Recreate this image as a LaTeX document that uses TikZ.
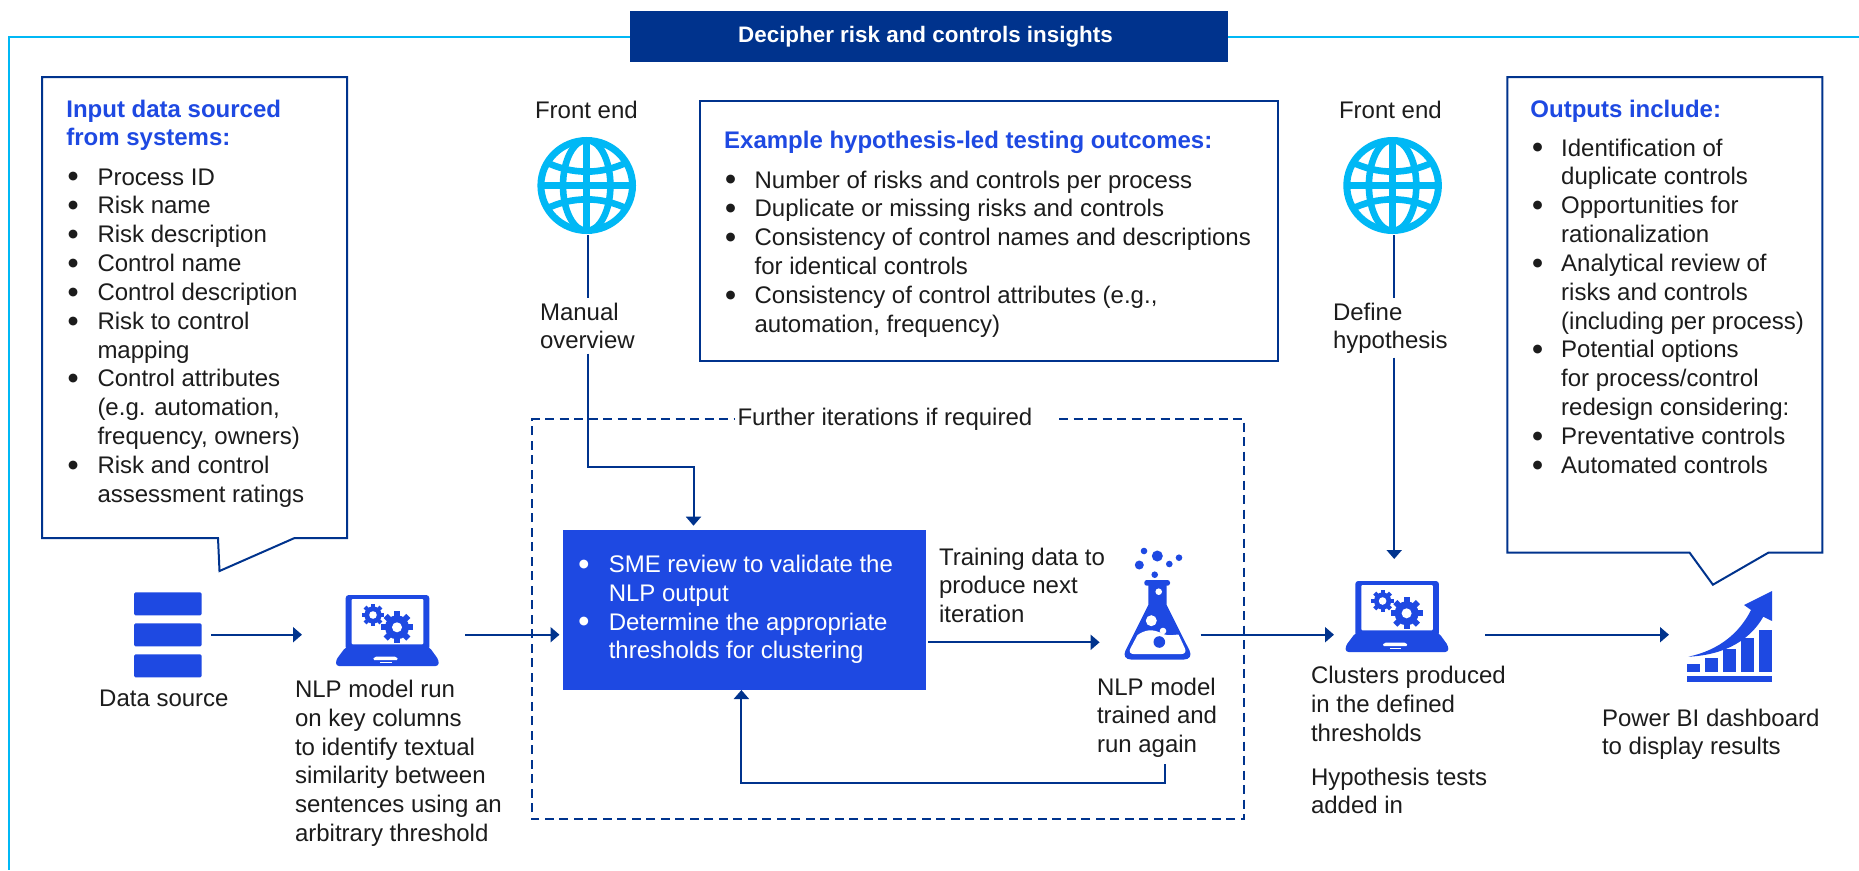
\documentclass[tikz,border=0pt]{standalone}
\usepackage{fontspec}
\setmainfont{Liberation Sans}
\newfontfamily\bulletfont{DejaVu Sans}
\usetikzlibrary{arrows.meta,calc}
\definecolor{navy}{HTML}{00338D}
\definecolor{brand}{HTML}{1E49E2}
\definecolor{sky}{HTML}{00B8F5}
\definecolor{ink}{HTML}{1C1C1C}
\newcommand{\rowsof}[1]{\begin{tabular}[t]{@{}l@{}}#1\end{tabular}}
\newcommand{\bulletsof}[2]{\begin{tabular}[t]{@{}p{#1pt}@{}l@{}}#2\end{tabular}}
\newcommand{\bl}{\makebox[0pt][l]{\raisebox{5.2pt}{\bulletfont\fontsize{11.5}{12}\selectfont ●}} &}
\newcommand{\gearicon}[6]{%
  \foreach \a in {0,45,...,315} {\draw[line width=#6pt,brand] (#1,#2) -- ++(\a:#4);}
  \fill[brand] (#1,#2) circle[radius=#3];
  \fill[white] (#1,#2) circle[radius=#5];}
\newcommand{\laptopicon}[2]{%
  \begin{scope}[shift={(#1,#2)}]
    \fill[brand,rounded corners=3pt] (345.7,595) rectangle (429.3,650);
    \fill[brand,rounded corners=3pt] (345.7,647) -- (429.3,647) -- (438.7,660) -- (438.7,666) -- (336,666) -- (336,660) -- cycle;
    \fill[white,rounded corners=1pt] (351.7,599) rectangle (423.3,644.3);
    \fill[white,rounded corners=1.5pt] (372.7,660) -- (374.5,656.7) -- (396.5,656.7) -- (398.3,660) -- cycle;
    \fill[white] (380,662.2) rectangle (391.7,663.2);
    \gearicon{397}{627.3}{12}{16}{5}{5.8}
    \gearicon{373}{615}{8.6}{11.2}{3.8}{4.2}
  \end{scope}}
\newcommand{\globeicon}[2]{%
  \begin{scope}[shift={(#1,#2)}]
    \draw[sky,line width=7pt] (0,0) ellipse[x radius=45.8,y radius=45];
    \begin{scope}
      \clip (0,0) ellipse[x radius=47,y radius=46.5];
      \draw[sky,line width=6.6pt] (0,0) ellipse[x radius=23.7,y radius=45.5];
      \draw[sky,line width=6.6pt] (0,-46) -- (0,46);
      \draw[sky,line width=6.6pt] (-46,0) -- (46,0);
      \draw[sky,line width=6.6pt] (-42,-24) .. controls (-15,-10.5) and (15,-10.5) .. (42,-24);
      \draw[sky,line width=6.6pt] (-42,24) .. controls (-15,10.5) and (15,10.5) .. (42,24);
    \end{scope}
  \end{scope}}
\tikzset{
  x=1pt,y=-1pt,
  txt/.style={inner sep=0pt,outer sep=0pt,anchor=base west,font=\fontsize{24}{28.85}\selectfont,text=ink},
  head/.style={inner sep=0pt,outer sep=0pt,anchor=base west,font=\fontsize{24}{28}\selectfont\bfseries,text=brand},
  port/.style={inner sep=0pt,outer sep=0pt,draw=none,fill=none},
  panel/.style={draw=navy,line width=2pt,line join=miter},
  conn/.style={draw=navy,line width=2pt},
  arr/.style={draw=navy,line width=2pt,-{Triangle[length=9pt,width=15pt]}},
  frameline/.style={draw=sky,line width=2pt},
  iterline/.style={draw=navy,line width=2pt,dash pattern=on 9pt off 5.5pt},
}
\begin{document}
\begin{tikzpicture}
\useasboundingbox (0,0) rectangle (1859,870);
\fill[white] (0,0) rectangle (1859,870);

% banner and frame
\node[fill=navy,inner sep=0pt,outer sep=0pt,minimum width=598pt,minimum height=51pt,text=white,font=\fontsize{22.4}{26}\selectfont\bfseries] (banner) at (929,36.5) {\raisebox{-1pt}{Decipher risk and controls insights}\rule{7pt}{0pt}};
\draw[frameline] (banner.west) -- (8.7,36.5) -- (8.7,870);
\draw[frameline] (banner.east) -- (1859,36.5);

% input callout
\draw[panel] (42,77) -- (347,77) -- (347,538) -- (294.6,538) -- (219.5,571) -- (218,538) -- (42,538) -- cycle;
\node[head] (inhead) at (66.4,117.7) {\rowsof{Input data sourced\\from systems:}};
\node[txt] (inlist) at (68,185) {\bulletsof{29.5}{
\bl Process ID\\
\bl Risk name\\
\bl Risk description\\
\bl Control name\\
\bl Control description\\
\bl Risk to control\\
& mapping\\
\bl Control attributes\\
& (e.g. automation,\\
& frequency, owners)\\
\bl Risk and control\\
& assessment ratings}};

% hypothesis box
\node[panel,inner sep=0pt,minimum width=578pt,minimum height=260pt] (hypbox) at (989,231) {};
\node[head] (hyphead) at (724.2,148.7) {Example hypothesis-led testing outcomes:};
\node[txt] (hyplist) at (725.6,188) {\bulletsof{29}{
\bl Number of risks and controls per process\\
\bl Duplicate or missing risks and controls\\
\bl Consistency of control names and descriptions\\
& for identical controls\\
\bl Consistency of control attributes (e.g.,\\
& automation, frequency)}};

% output callout
\draw[panel] (1507.3,77) -- (1822.4,77) -- (1822.4,552.7) -- (1768.3,552.7) -- (1712.9,584.7) -- (1689.6,552.7) -- (1507.3,552.7) -- cycle;
\node[head] (outhead) at (1530.4,117.7) {Outputs include:};
\node[txt] (outlist) at (1532.6,156) {\bulletsof{28.6}{
\bl Identification of\\
& duplicate controls\\
\bl Opportunities for\\
& rationalization\\
\bl Analytical review of\\
& risks and controls\\
& (including per process)\\
\bl Potential options\\
& for process/control\\
& redesign considering:\\
\bl Preventative controls\\
\bl Automated controls}};

% iteration frame
\draw[iterline] (1059,419.3) -- (1244.3,419.3) -- (1244.3,819.3) -- (531.8,819.3) -- (531.8,419.3) -- (734.7,419.3);
\node[txt] (iterlabel) at (737.5,425) {Further iterations if required};

% front ends
\node[port,minimum width=98pt,minimum height=98pt] (globeL) at (587.6,186) {};
\globeicon{586.7}{185.5}
\node[txt] (feL) at (535,118.7) {Front end};
\node[txt] (manual) at (540,320) {\rowsof{Manual\\overview}};
\node[port,minimum width=98pt,minimum height=98pt] (globeR) at (1394.2,186) {};
\globeicon{1392.6}{185.5}
\node[txt] (feR) at (1339,118.7) {Front end};
\node[txt] (define) at (1333,320) {\rowsof{Define\\hypothesis}};

% data source
\node[port,minimum width=77pt,minimum height=85pt] (ds) at (172.5,634.7) {};
\foreach \yy in {592.3,623.3,654.3} {\fill[brand,rounded corners=1.5pt] (134,\yy) rectangle (201.7,\yy+23);}
\node[txt] (dslabel) at (99.2,706.7) {Data source};

% first laptop
\node[port,minimum width=163pt,minimum height=75pt] (lapA) at (383.5,634.7) {};
\laptopicon{0}{0}
\node[txt] (lapAlabel) at (295,697.3) {\rowsof{NLP model run\\on key columns\\to identify textual\\similarity between\\sentences using an\\arbitrary threshold}};

% review box
\node[fill=brand,inner sep=0pt,outer sep=0pt,minimum width=363pt,minimum height=160pt] (review) at (744.5,610) {};
\node[txt,text=white] (reviewlist) at (578.8,572.3) {\bulletsof{30}{
\bl SME review to validate the\\
& NLP output\\
\bl Determine the appropriate\\
& thresholds for clustering}};

% training label
\node[txt] (training) at (939,565) {\rowsof{Training data to\\produce next\\iteration}};

% flask
\node[port,minimum width=100.9pt,minimum height=60pt] (flask) at (1150.05,634.7) {};
\foreach \cx/\cy/\r in {1144/551/3.3,1157.3/556/5.5,1179/557.7/3.3,1169.3/564/3.3,1139.3/565/4.5,1154.7/574.7/3.3}
  {\fill[brand] (\cx,\cy) circle[radius=\r];}
\fill[brand,rounded corners=2.5pt] (1144.3,580) rectangle (1170,585.7);
\fill[brand] (1148.3,584) -- (1148.3,605) [rounded corners=10pt] -- (1121,659.5) -- (1194,659.5) [sharp corners] -- (1166.7,605) -- (1166.7,584) -- cycle;
\fill[white] (1137.5,635) .. controls (1145,630) and (1152,628) .. (1163,634) .. controls (1168,636) and (1173,635) .. (1178.5,634.5) [rounded corners=6pt] -- (1187.5,654) -- (1127.5,654) [sharp corners] -- cycle;
\fill[white] (1158.7,591.7) circle[radius=3.3];
\fill[white] (1151.3,620.7) circle[radius=5.5];
\fill[white] (1163,631) circle[radius=3.3];
\fill[brand] (1159.3,642) circle[radius=5.8];
\node[txt] (flasklabel) at (1097,695) {\rowsof{NLP model\\trained and\\run again}};

% second laptop
\node[port,minimum width=151pt,minimum height=151.4pt] (lapB) at (1409.5,634.7) {};
\laptopicon{1009.6}{-14}
\node[txt] (lapBlabel) at (1311,683.3) {\rowsof{Clusters produced\\in the defined\\thresholds}};
\node[txt] (hyptests) at (1311,785) {\rowsof{Hypothesis tests\\added in}};

% dashboard chart
\node[port,minimum width=111pt,minimum height=90pt] (chart) at (1724.5,634.7) {};
\foreach \xa/\ytop in {1687/664,1705/658,1723/649,1741/638,1759/630}
  {\fill[brand] (\xa,\ytop) rectangle (\xa+13,672);}
\fill[brand] (1687,676) rectangle (1772,682);
\fill[brand] (1688.3,656.7) .. controls (1720,650) and (1740,632) .. (1751,610) -- (1744,605) -- (1772,591) -- (1772,621) -- (1763.3,616.7) .. controls (1750,640) and (1725,655) .. (1688.3,656.7) -- cycle;
\node[txt] (chartlabel) at (1602,726) {\rowsof{Power BI dashboard\\to display results}};

% connectors
\draw[arr] (ds.east) -- (lapA.west);
\draw[arr,shorten >=3.5pt] (lapA.east) -- (review.west |- lapA.east);
\coordinate (reviewIn) at (693.5,466.7);
\draw[conn,shorten >=2.2pt] (globeL.south) -- (globeL.south |- manual.north);
\draw[arr,shorten <=-4pt,shorten >=4.3pt] (globeL.south |- manual.south) |- (reviewIn) -- (reviewIn |- review.north);
\draw[conn,shorten >=2.2pt] (globeR.south) -- (globeR.south |- define.north);
\draw[arr] (globeR.south |- define.south) -- (globeR.south |- lapB.north);
\coordinate (flaskIn) at (1099.6,642.3);
\draw[arr,shorten <=2pt] (review.east |- flaskIn) -- (flaskIn);
\coordinate (loopA) at (1165,783.3);
\coordinate (loopB) at (741.4,783.3);
\draw[arr,shorten <=3pt] (loopA |- flasklabel.south) -- (loopA) -- (loopB) -- (loopB |- review.south);
\draw[arr] (flask.east) -- (lapB.west);
\draw[arr] (lapB.east) -- (chart.west);
\end{tikzpicture}
\end{document}
